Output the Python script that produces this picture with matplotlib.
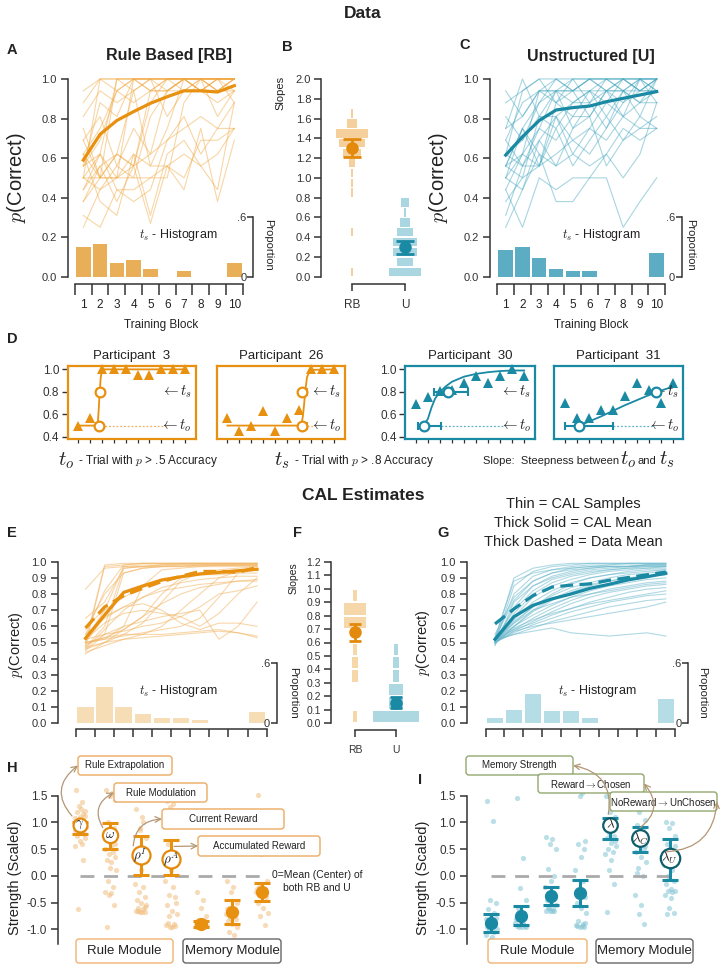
import numpy as np
import matplotlib
matplotlib.use('Agg')
import matplotlib.pyplot as plt
from matplotlib.patches import FancyBboxPatch

plt.rcParams['font.family'] = ['Liberation Sans', 'DejaVu Sans']
plt.rcParams['mathtext.fontset'] = 'cm'
plt.rcParams['axes.unicode_minus'] = False

W, H = 727, 969

# ----------------------------------------------------------------- data
blocks = list(range(1, 11))
trials = list(range(1, 11))

A_lines = [
    [0.94, 1.0, 1.0, 1.0, 1.0, 1.0, 1.0, 1.0, 1.0, 1.0],
    [0.88, 1.0, 0.94, 1.0, 1.0, 0.94, 1.0, 1.0, 1.0, 1.0],
    [0.50, 1.0, 1.0, 1.0, 1.0, 1.0, 1.0, 1.0, 1.0, 1.0],
    [0.62, 0.50, 1.0, 1.0, 0.94, 1.0, 1.0, 0.94, 1.0, 0.94],
    [0.56, 0.69, 0.94, 1.0, 1.0, 1.0, 0.94, 1.0, 0.94, 1.0],
    [0.44, 0.62, 1.0, 0.94, 1.0, 1.0, 1.0, 1.0, 1.0, 1.0],
    [0.75, 0.50, 0.50, 1.0, 1.0, 1.0, 1.0, 1.0, 0.94, 1.0],
    [0.38, 0.50, 0.62, 0.56, 0.88, 1.0, 1.0, 1.0, 1.0, 1.0],
    [0.50, 0.44, 0.50, 0.56, 0.62, 0.94, 1.0, 0.94, 1.0, 1.0],
    [0.25, 0.44, 0.56, 0.50, 0.81, 0.94, 1.0, 1.0, 0.94, 1.0],
    [0.69, 0.81, 0.56, 0.75, 0.62, 0.69, 0.81, 0.62, 0.75, 0.88],
    [0.62, 0.38, 0.31, 0.62, 0.31, 0.62, 0.69, 0.56, 0.44, 0.88],
    [0.56, 0.62, 0.44, 0.44, 0.50, 0.56, 0.50, 0.69, 0.69, 0.75],
    [0.31, 0.25, 0.44, 0.38, 0.44, 0.69, 0.75, 0.81, 0.75, 0.75],
    [0.50, 0.62, 0.50, 0.62, 0.56, 0.56, 0.44, 0.75, 0.38, 0.69],
    [0.81, 0.94, 0.88, 0.94, 1.0, 0.81, 0.94, 1.0, 1.0, 0.88],
    [0.38, 0.56, 0.62, 0.56, 0.94, 0.94, 0.94, 0.94, 0.94, 0.94],
    [0.50, 0.50, 0.50, 0.50, 0.50, 0.50, 0.88, 1.0, 1.0, 1.0],
    [0.44, 0.56, 0.38, 0.56, 0.27, 0.56, 0.62, 0.56, 0.62, 0.75],
    [0.62, 0.75, 0.94, 0.88, 0.94, 1.0, 1.0, 0.94, 0.88, 0.94],
    [0.69, 0.50, 0.62, 0.94, 0.56, 0.75, 1.0, 0.94, 1.0, 1.0],
    [0.56, 0.88, 0.81, 1.0, 0.94, 0.94, 1.0, 1.0, 0.81, 0.94],
]
A_mean = [0.59, 0.72, 0.79, 0.835, 0.877, 0.91, 0.94, 0.94, 0.934, 0.966]
A_hist = [0.30, 0.33, 0.14, 0.17, 0.08, 0.0, 0.06, 0.0, 0.0, 0.14]

C_lines = [
    [0.62, 0.94, 1.0, 0.88, 1.0, 1.0, 0.94, 1.0, 1.0, 1.0],
    [0.50, 0.75, 0.88, 1.0, 0.94, 1.0, 1.0, 1.0, 0.94, 1.0],
    [0.44, 0.62, 0.94, 0.94, 1.0, 0.88, 1.0, 0.94, 1.0, 1.0],
    [0.75, 1.0, 0.81, 0.94, 0.94, 1.0, 0.94, 1.0, 1.0, 0.94],
    [0.56, 0.50, 0.56, 0.81, 0.88, 0.94, 0.81, 0.94, 0.88, 1.0],
    [0.69, 0.56, 0.75, 0.94, 0.75, 0.88, 0.94, 0.81, 1.0, 0.88],
    [0.31, 0.56, 0.56, 0.62, 0.69, 0.62, 0.75, 0.88, 0.94, 1.0],
    [0.88, 0.94, 1.0, 1.0, 1.0, 1.0, 1.0, 1.0, 1.0, 1.0],
    [0.94, 0.81, 0.94, 1.0, 0.94, 1.0, 1.0, 1.0, 0.94, 1.0],
    [0.50, 0.44, 0.62, 0.38, 0.38, 0.50, 0.62, 0.50, 0.62, 0.88],
    [0.25, 0.44, 0.69, 0.56, 0.75, 0.81, 0.56, 0.69, 0.75, 0.75],
    [0.56, 0.62, 0.56, 0.75, 0.56, 0.69, 0.81, 0.69, 0.81, 0.75],
    [0.44, 0.25, 0.50, 0.44, 0.50, 0.50, 0.50, 0.25, 0.38, 0.50],
    [0.62, 0.69, 0.81, 0.81, 0.69, 0.75, 0.88, 0.81, 0.88, 0.94],
    [0.56, 0.75, 0.56, 0.88, 0.81, 0.81, 0.94, 0.94, 0.81, 1.0],
    [0.69, 0.88, 0.94, 0.88, 0.94, 0.81, 0.94, 0.88, 1.0, 0.94],
    [0.50, 0.62, 0.75, 0.69, 0.81, 0.94, 0.88, 1.0, 0.94, 0.94],
    [0.38, 0.50, 0.81, 0.75, 0.88, 0.88, 0.75, 0.94, 0.88, 0.88],
    [0.81, 0.69, 0.88, 0.94, 0.88, 0.94, 1.0, 0.94, 1.0, 1.0],
    [0.62, 0.56, 0.69, 0.81, 0.62, 0.75, 0.69, 0.81, 0.75, 0.81],
    [0.75, 0.81, 0.94, 0.94, 0.94, 0.94, 0.94, 0.94, 0.94, 0.94],
    [0.56, 0.75, 0.62, 0.56, 0.62, 0.56, 0.62, 0.75, 0.69, 0.75],
]
C_mean = [0.615, 0.708, 0.79, 0.843, 0.855, 0.863, 0.885, 0.902, 0.919, 0.936]
C_hist = [0.27, 0.30, 0.19, 0.08, 0.06, 0.06, 0.0, 0.0, 0.0, 0.24]

slope_bins_B = [0.05, 0.15, 0.25, 0.35, 0.45, 0.55, 0.65, 0.75, 0.85, 0.95,
                1.05, 1.15, 1.25, 1.35, 1.45, 1.55, 1.65, 1.75, 1.85, 1.95]
B_rb_counts = [1, 0, 0, 0, 1, 0, 0, 0, 1, 1, 1, 2, 7, 10, 12, 4, 1, 0, 0, 0]
B_u_counts = [12, 6, 9, 9, 6, 4, 1, 3, 0, 0, 0, 0, 0, 0, 0, 0, 0, 0, 0, 0]
B_rb_stats = [1.30, 1.21, 1.39]   # mean, low, high
B_u_stats = [0.30, 0.23, 0.36]
slope_categories = ['RB', 'U']

D_titles = ['Participant  3', 'Participant  26', 'Participant  30', 'Participant  31']
D_vals = [
    [0.50, 0.57, 1.0, 1.0, 1.0, 0.95, 0.95, 1.0, 1.0, 1.0],
    [0.57, 0.45, 0.50, 0.63, 0.45, 0.57, 0.64, 1.0, 1.0, 1.0],
    [0.69, 0.75, 0.81, 0.82, 0.88, 0.94, 0.88, 0.94, 1.0, 0.94],
    [0.70, 0.57, 0.57, 0.64, 0.64, 0.76, 0.88, 0.82, 0.70, 0.88],
]
D_fit_x = [
    [1, 2.55, 2.65, 2.72, 2.8, 2.88, 2.97, 3.1, 10],
    [1, 7.15, 7.25, 7.35, 7.45, 7.55, 7.7, 7.95, 10],
    [1.65, 2.0, 2.3, 2.6, 3.0, 3.5, 4, 5, 6, 7, 8, 9, 10],
    [2.2, 3, 4, 5, 6, 7, 8, 9, 10],
]
D_fit_y = [
    [0.5, 0.5, 0.53, 0.65, 0.8, 0.92, 0.98, 1.0, 1.0],
    [0.5, 0.5, 0.52, 0.58, 0.68, 0.8, 0.93, 0.995, 1.0],
    [0.5, 0.56, 0.66, 0.74, 0.8, 0.85, 0.89, 0.935, 0.96, 0.975, 0.985, 0.99, 0.99],
    [0.5, 0.535, 0.58, 0.63, 0.68, 0.725, 0.77, 0.81, 0.845],
]
D_to = [[2.72, 2.52, 2.92], [7.3, 7.25, 7.7], [1.65, 1.2, 3.05], [2.2, 1.05, 5.0]]
D_ts = [[2.8, 2.6, 3.0], [7.3, 7.25, 7.7], [3.65, 2.55, 5.3], [8.65, 8.65, 8.65]]

E_lines = [
    [0.50, 0.98, 0.99, 0.99, 0.99, 0.99, 0.99, 0.99, 0.99, 0.99],
    [0.48, 0.97, 0.98, 0.99, 0.99, 0.99, 0.99, 0.99, 0.99, 0.99],
    [0.55, 0.82, 0.98, 0.99, 0.99, 0.99, 0.99, 0.99, 0.99, 0.99],
    [0.52, 0.70, 0.97, 0.98, 0.98, 0.99, 0.99, 0.99, 0.99, 0.99],
    [0.47, 0.60, 0.96, 0.97, 0.98, 0.98, 0.98, 0.98, 0.98, 0.98],
    [0.83, 0.96, 0.97, 0.97, 0.98, 0.98, 0.98, 0.98, 0.98, 0.98],
    [0.45, 0.55, 0.93, 0.96, 0.97, 0.97, 0.97, 0.98, 0.98, 0.98],
    [0.50, 0.52, 0.60, 0.85, 0.95, 0.96, 0.97, 0.97, 0.97, 0.97],
    [0.46, 0.50, 0.55, 0.62, 0.75, 0.88, 0.93, 0.95, 0.96, 0.97],
    [0.49, 0.53, 0.58, 0.66, 0.80, 0.90, 0.93, 0.94, 0.95, 0.96],
    [0.44, 0.48, 0.52, 0.55, 0.60, 0.70, 0.80, 0.90, 0.94, 0.95],
    [0.52, 0.55, 0.57, 0.60, 0.62, 0.66, 0.72, 0.80, 0.82, 0.85],
    [0.50, 0.52, 0.54, 0.56, 0.58, 0.60, 0.65, 0.78, 0.93, 0.95],
    [0.47, 0.50, 0.52, 0.53, 0.54, 0.55, 0.56, 0.57, 0.56, 0.53],
    [0.50, 0.53, 0.55, 0.55, 0.55, 0.56, 0.57, 0.58, 0.56, 0.54],
    [0.48, 0.55, 0.60, 0.63, 0.66, 0.68, 0.70, 0.52, 0.60, 0.75],
    [0.60, 0.70, 0.78, 0.84, 0.88, 0.90, 0.92, 0.92, 0.93, 0.93],
    [0.55, 0.65, 0.72, 0.78, 0.82, 0.84, 0.86, 0.87, 0.88, 0.88],
    [0.46, 0.58, 0.70, 0.78, 0.84, 0.87, 0.89, 0.90, 0.91, 0.91],
    [0.43, 0.50, 0.58, 0.66, 0.74, 0.80, 0.84, 0.86, 0.88, 0.89],
    [0.52, 0.62, 0.68, 0.70, 0.68, 0.66, 0.60, 0.68, 0.80, 0.90],
    [0.58, 0.80, 0.93, 0.96, 0.97, 0.97, 0.98, 0.98, 0.98, 0.98],
    [0.65, 0.75, 0.96, 0.97, 0.97, 0.98, 0.98, 0.98, 0.98, 0.98],
    [0.50, 0.66, 0.72, 0.74, 0.70, 0.62, 0.58, 0.62, 0.62, 0.60],
]
E_mean = [0.526, 0.67, 0.81, 0.85, 0.887, 0.907, 0.924, 0.934, 0.944, 0.953]
E_hist = [0.16, 0.36, 0.16, 0.09, 0.05, 0.05, 0.03, 0.0, 0.0, 0.11]

slope_bins_F = [0.05, 0.15, 0.25, 0.35, 0.45, 0.55, 0.65, 0.75, 0.85, 0.95, 1.05, 1.15]
F_rb_counts = [1, 0, 0, 2, 2, 1, 0, 7, 7, 1, 0, 0]
F_u_counts = [14, 4, 4, 2, 2, 1, 0, 0, 0, 0, 0, 0]
F_rb_stats = [0.68, 0.61, 0.74]
F_u_stats = [0.15, 0.11, 0.19]

G_lines = [
    [0.52, 0.90, 0.96, 0.98, 0.99, 0.99, 0.99, 0.99, 0.99, 0.99],
    [0.50, 0.85, 0.94, 0.97, 0.98, 0.99, 0.99, 0.99, 0.99, 0.99],
    [0.51, 0.80, 0.91, 0.95, 0.97, 0.98, 0.98, 0.99, 0.99, 0.99],
    [0.53, 0.76, 0.88, 0.93, 0.96, 0.97, 0.98, 0.98, 0.98, 0.98],
    [0.50, 0.72, 0.85, 0.91, 0.94, 0.96, 0.97, 0.97, 0.98, 0.98],
    [0.52, 0.70, 0.82, 0.89, 0.92, 0.94, 0.95, 0.96, 0.97, 0.97],
    [0.49, 0.66, 0.78, 0.85, 0.89, 0.92, 0.94, 0.95, 0.96, 0.96],
    [0.51, 0.64, 0.75, 0.82, 0.87, 0.90, 0.92, 0.94, 0.95, 0.95],
    [0.50, 0.62, 0.72, 0.79, 0.84, 0.87, 0.90, 0.92, 0.93, 0.94],
    [0.52, 0.60, 0.69, 0.76, 0.81, 0.85, 0.88, 0.90, 0.91, 0.92],
    [0.50, 0.60, 0.67, 0.73, 0.78, 0.82, 0.85, 0.87, 0.89, 0.90],
    [0.51, 0.58, 0.65, 0.71, 0.76, 0.80, 0.83, 0.85, 0.87, 0.88],
    [0.50, 0.57, 0.63, 0.69, 0.74, 0.78, 0.81, 0.83, 0.85, 0.86],
    [0.52, 0.58, 0.62, 0.67, 0.71, 0.75, 0.78, 0.81, 0.83, 0.84],
    [0.50, 0.56, 0.61, 0.65, 0.69, 0.72, 0.75, 0.77, 0.79, 0.80],
    [0.51, 0.55, 0.59, 0.63, 0.66, 0.69, 0.72, 0.74, 0.76, 0.77],
    [0.50, 0.57, 0.60, 0.62, 0.64, 0.66, 0.68, 0.70, 0.72, 0.75],
    [0.52, 0.55, 0.57, 0.59, 0.56, 0.55, 0.54, 0.55, 0.56, 0.54],
    [0.48, 0.75, 0.85, 0.90, 0.93, 0.95, 0.96, 0.97, 0.97, 0.97],
    [0.53, 0.88, 0.93, 0.95, 0.96, 0.97, 0.97, 0.97, 0.98, 0.98],
    [0.50, 0.68, 0.80, 0.87, 0.91, 0.93, 0.95, 0.96, 0.96, 0.97],
    [0.51, 0.63, 0.72, 0.80, 0.86, 0.90, 0.92, 0.93, 0.94, 0.95],
    [0.49, 0.60, 0.70, 0.77, 0.82, 0.86, 0.88, 0.90, 0.91, 0.92],
    [0.52, 0.62, 0.70, 0.74, 0.78, 0.80, 0.82, 0.84, 0.86, 0.87],
    [0.55, 0.78, 0.88, 0.93, 0.95, 0.96, 0.97, 0.97, 0.98, 0.98],
    [0.50, 0.59, 0.64, 0.68, 0.71, 0.74, 0.76, 0.78, 0.80, 0.82],
]
G_mean = [0.52, 0.66, 0.73, 0.77, 0.80, 0.835, 0.86, 0.887, 0.907, 0.928]
G_hist = [0.05, 0.13, 0.29, 0.12, 0.12, 0.05, 0.0, 0.0, 0.0, 0.24]

H_points = [
    [1.6, 1.38, 1.3, 1.22, 1.2, 1.15, 1.1, 1.08, 1.05, 1.02, 1.0, 0.98, 0.95, 0.92, 0.9,
     0.88, 0.85, 0.82, 0.8, 0.78, 0.75, 0.7, 0.65, 0.6, 0.55, 0.3, -0.62, 1.25, 1.12, 0.95],
    [1.6, 1.55, 1.5, 1.42, 1.0, 0.9, 0.55, 0.5, 0.45, 0.4, 0.35, 0.3, 0.25, 0.1, -0.1,
     -0.2, -0.3, -0.32, -0.35, -0.55, -0.95, 0.6, 0.15],
    [1.25, 1.1, 0.9, 0.7, 0.5, 0.3, 0.1, -0.15, -0.2, -0.3, -0.4, -0.45, -0.5, -0.55,
     -0.6, -0.62, -0.65, -0.68, -0.68, -0.68, -0.65, -0.58, 0.85, 1.0],
    [1.4, 1.35, 1.28, 1.05, 0.6, 0.4, 0.1, -0.1, -0.2, -0.35, -0.4, -0.55, -0.65, -0.72,
     -0.75, -0.9, -0.92, -0.95, -0.95, -0.93, -0.88, -0.5, 0.2],
    [-0.3, -0.45, -0.6, -0.75, -0.82, -0.85, -0.88, -0.88, -0.9, -0.9, -0.92, -0.92,
     -0.93, -0.93, -0.94, -0.94, -0.95, -0.95, -0.96, -0.9, -0.87],
    [-0.1, -0.2, -0.3, -0.5, -0.6, -0.65, -0.7, -0.72, -0.75, -0.78, -0.8, -0.85, -0.9,
     -0.95, -1.05, -1.1, -0.62, -0.68, -0.7],
    [1.52, 0.45, 0.4, -0.1, -0.2, -0.25, -0.28, -0.3, -0.32, -0.35, -0.4, -0.5, -0.6,
     -0.7, -0.75, -0.92, -0.25, -0.3],
]
H_means = [0.96, 0.76, 0.39, 0.32, -0.90, -0.67, -0.30]
H_low = [0.79, 0.51, 0.01, 0.01, -0.95, -0.90, -0.48]
H_high = [1.0, 0.98, 0.75, 0.67, -0.85, -0.45, -0.13]
H_labels = [r'$\gamma$', r'$\omega$', r'$\rho^I$', r'$\rho^A$', '', '', '']

I_points = [
    [1.4, 1.02, -0.45, -0.5, -0.62, -0.7, -0.75, -0.8, -0.85, -0.9, -0.92, -0.95, -0.98,
     -1.0, -1.02, -1.05, -1.1, -1.15, -1.2, -1.25, -0.88, -0.78],
    [1.45, 0.33, -0.22, -0.45, -0.6, -0.7, -0.85, -0.88, -0.9, -0.92, -0.93, -0.94,
     -0.95, -0.95, -0.96, -0.9, -0.8, -0.75],
    [0.72, 0.68, 0.6, 0.5, 0.12, 0.0, -0.1, -0.2, -0.3, -0.35, -0.4, -0.45, -0.5, -0.55,
     -0.6, -0.62, -0.65, -0.65, -0.66, -0.66, -0.6],
    [1.6, 1.55, 1.5, 0.65, 0.6, 0.5, 0.35, 0.1, -0.1, -0.3, -0.4, -0.5, -0.6, -0.7,
     -0.85, -0.9, -0.92, -0.94, -0.95, -0.95, -0.93, -0.88],
    [1.5, 1.3, 1.2, 1.1, 1.05, 1.0, 0.95, 0.9, 0.85, 0.8, 0.75, 0.7, 0.62, 0.55, 0.5,
     0.45, 0.4, 0.3, 0.1, -0.15, -0.68, 0.65, 0.88],
    [1.55, 1.3, 1.2, 1.05, 0.95, 0.9, 0.85, 0.75, 0.7, 0.6, 0.5, 0.45, 0.35, 0.25, 0.15,
     0.0, -0.35, -0.55, -0.72, -0.9, 0.05, 0.55],
    [1.0, 0.98, 0.9, 0.75, 0.6, 0.45, 0.3, 0.2, 0.1, 0.0, -0.1, -0.15, -0.25, -0.28,
     -0.28, -0.3, -0.35, -0.42, -0.6, -0.7, -0.72, 0.55],
]
I_means = [-0.89, -0.75, -0.37, -0.33, 0.95, 0.70, 0.33]
I_low = [-1.06, -0.92, -0.545, -0.56, 0.68, 0.45, -0.07]
I_high = [-0.71, -0.56, -0.20, -0.08, 1.08, 0.91, 0.68]
I_labels = ['', '', '', '', r'$\lambda$', r'$\lambda_C$', r'$\lambda_U$']

# jitter pattern for dot strips (layout only)
JIT = [-0.14, 0.06, -0.02, 0.17, -0.09, 0.11, 0.01, -0.18, 0.08, -0.05,
       0.14, -0.12, 0.03, 0.19, -0.07, 0.09, -0.16, 0.04, -0.03, 0.13,
       -0.10, 0.16, -0.01, 0.07, -0.15, 0.10, -0.06, 0.02, 0.18, -0.11]

# ----------------------------------------------------------------- styles
ORANGE = '#E8900F'
ORANGE_THIN = '#F0A53A'
TEAL = '#1A89A3'
TEAL_THIN = '#3EA3BD'
AX_COL = '#333333'
TXT = '#222222'

fig = plt.figure(figsize=(W / 100, H / 100), dpi=100)


def add_ax(x0, y0, x1, y1, **kw):
    return fig.add_axes([x0 / W, 1 - y1 / H, (x1 - x0) / W, (y1 - y0) / H], **kw)


def pt(p):
    return p * 0.72


def clean(ax):
    for s in ['top', 'right']:
        ax.spines[s].set_visible(False)
    for s in ['left', 'bottom']:
        ax.spines[s].set_color(AX_COL)
        ax.spines[s].set_linewidth(1.1)
    ax.patch.set_alpha(0)


def curve_panel(box, lines, mean, hist, fac, thin_c, mean_c, hist_c, ystep,
                left_out, bottom_out, tick_len, labels, prop_x, dashed=None,
                thin_alpha=0.45, tick_fs=8):
    ax = add_ax(*box)
    clean(ax)
    ylim = (-0.02, 1.02)
    ax.set_xlim(0.5, 10.5)
    ax.set_ylim(*ylim)
    for row in lines:
        ax.plot(blocks, row, color=thin_c, lw=0.8, alpha=thin_alpha, zorder=2, clip_on=False)
    ax.plot(blocks, mean, color=mean_c, lw=2.3, zorder=5, clip_on=False)
    if dashed is not None:
        ax.plot(blocks, dashed, color=mean_c, lw=2.3, ls=(0, (4, 2)), zorder=5, clip_on=False)
    ax.spines['left'].set_position(('outward', pt(left_out)))
    ax.spines['left'].set_bounds(0, 1)
    yt = np.round(np.arange(0, 1.0001, ystep), 2)
    ax.set_yticks(yt, [f'{v:.1f}' for v in yt])
    ax.tick_params(axis='y', length=5, width=1.1, pad=3, labelsize=tick_fs, colors=AX_COL)
    ax.spines['bottom'].set_position(('outward', pt(bottom_out)))
    ax.spines['bottom'].set_bounds(0.5, 10.5)
    ax.set_xticks(np.arange(0.5, 10.51, 1.0), [''] * 11)
    ax.tick_params(axis='x', which='major', length=tick_len, width=1.1, colors=AX_COL)
    if labels:
        ax.set_xticks(blocks, [str(b) for b in blocks], minor=True)
        ax.tick_params(axis='x', which='minor', length=0, pad=11, labelsize=8.5, colors=TXT)
    # histogram on proportion scale
    ax2 = ax.twinx()
    ax2.set_ylim(ylim[0] * fac, ylim[1] * fac)
    ax2.bar(blocks, hist, width=0.86, color=hist_c, zorder=1)
    ax2.axis('off')
    # proportion bracket
    bx = add_ax(prop_x, box[1], prop_x + 2, box[3])
    bx.set_ylim(ylim[0] * fac, ylim[1] * fac)
    for s in ['top', 'right', 'bottom']:
        bx.spines[s].set_visible(False)
    bx.spines['left'].set_bounds(0, 0.6)
    bx.spines['left'].set_color(AX_COL)
    bx.spines['left'].set_linewidth(1.1)
    bx.set_xticks([])
    bx.set_yticks([0, 0.6], ['0', '.6'])
    bx.tick_params(axis='y', length=4, width=1.1, pad=1, labelsize=8, colors=AX_COL)
    bx.patch.set_alpha(0)
    return ax


def slope_panel(box, xlim, ylim, bins, rb_c, u_c, unit, rb_s, u_s, yticks,
                left_out, bottom_out, rb_col, u_col, cap, bar_h, tick_fs, xl_fs):
    ax = add_ax(*box)
    clean(ax)
    ax.set_xlim(*xlim)
    ax.set_ylim(*ylim)
    for xc, counts, col in [(0, rb_c, rb_col), (1, u_c, u_col)]:
        widths = [c * unit for c in counts]
        ax.barh(bins, widths, left=[xc - w / 2 for w in widths], height=bar_h,
                color=col, zorder=1)
    for xc, st, col in [(0, rb_s, '#E38A0C'), (1, u_s, TEAL)]:
        ax.errorbar(xc, st[0], yerr=[[st[0] - st[1]], [st[2] - st[0]]], fmt='o', ms=8,
                    color=col, ecolor=col, elinewidth=2, capsize=cap, capthick=2, zorder=3)
    ax.spines['left'].set_position(('outward', pt(left_out)))
    ax.spines['left'].set_bounds(yticks[0], yticks[-1])
    ax.set_yticks(yticks, [f'{v:.1f}' for v in yticks])
    ax.tick_params(axis='y', length=5, width=1.1, pad=2, labelsize=tick_fs, colors=AX_COL)
    ax.spines['bottom'].set_position(('outward', pt(bottom_out)))
    ax.spines['bottom'].set_bounds(0, 1)
    ax.set_xticks([0, 1], slope_categories)
    ax.tick_params(axis='x', length=5, width=1.1, pad=6, labelsize=xl_fs, colors=AX_COL)
    return ax


# ----------------------------------------------------------------- row 1
axA = curve_panel((74.9, 75, 242.7, 280.7), A_lines, A_mean, A_hist, 1.987,
                  ORANGE_THIN, ORANGE, '#E9AE58', 0.2, 7, 3.3, 7.7, True, 253.3)
axC = curve_panel((497.3, 75, 665.1, 280.7), C_lines, C_mean, C_hist, 1.987,
                  TEAL_THIN, TEAL, '#5CADC3', 0.2, 7.3, 3.3, 7.7, True, 681.7)
axB = slope_panel((330, 75, 430, 280.7), (-0.415, 1.472), (-0.04, 2.04), slope_bins_B,
                  B_rb_counts, B_u_counts, 0.05, B_rb_stats, B_u_stats,
                  list(np.round(np.arange(0, 2.001, 0.2), 1)), 9, 3.3,
                  '#F5D09C', '#A9D6E1', 6.5, 0.085, 8, 8.5)

# ----------------------------------------------------------------- row D
D_boxes = [(67.7, 366, 195.7, 439.3), (216.7, 366, 345, 439.3),
           (405, 366, 535, 439.3), (554, 366, 683.3, 439.3)]
D_cols = [ORANGE, ORANGE, TEAL, TEAL]
D_light = ['#F0B060', '#F0B060', '#5FB3C8', '#5FB3C8']
for k in range(4):
    ax = add_ax(*D_boxes[k])
    col = D_cols[k]
    ax.set_xlim(0.1, 10.9)
    ax.set_ylim(0.378, 1.03)
    for s in ax.spines.values():
        s.set_color(col)
        s.set_linewidth(1.6)
    ax.plot(D_fit_x[k], D_fit_y[k], color=col, lw=1.3, zorder=2)
    ax.plot(trials, D_vals[k], '^', color=col, ms=6.5, mew=0, zorder=3, clip_on=False)
    to, ts = D_to[k], D_ts[k]
    ax.hlines(0.5, to[2], 8.4, color=D_light[k], lw=0.9, linestyles=(0, (1.5, 1.5)), zorder=1)
    for (xm, lo, hi), yv in [(to, 0.5), (ts, 0.8)]:
        if hi > lo:
            ax.errorbar(xm, yv, xerr=[[xm - lo], [hi - xm]], fmt='none', ecolor=col,
                        elinewidth=1.5, capsize=3.2, capthick=1.5, zorder=4)
        ax.plot(xm, yv, 'o', ms=7, mfc='white', mec=col, mew=1.6, zorder=5)
    ax.text(10.6, 0.8, r'$\leftarrow t_s$', ha='right', va='center', fontsize=10.5, color=TXT)
    ax.text(10.6, 0.5, r'$\leftarrow t_o$', ha='right', va='center', fontsize=10.5, color=TXT)
    ax.set_xticks(trials)
    ax.set_xticklabels([])
    ax.tick_params(axis='x', length=3, width=0.9, colors=AX_COL)
    if k in (0, 2):
        ax.set_yticks([0.4, 0.6, 0.8, 1.0], ['0.4', '0.6', '0.8', '1.0'])
        ax.tick_params(axis='y', length=4, width=1.0, pad=2, labelsize=8.5, colors=AX_COL)
    else:
        ax.set_yticks([])
    ax.set_title(D_titles[k], fontsize=9.5, pad=5, color=TXT)

# ----------------------------------------------------------------- row 2
axE = curve_panel((76, 558.5, 266.6, 726.5), E_lines, E_mean, E_hist, 1.62,
                  '#F2B564', ORANGE, '#F6DDB6', 0.1, 18, 2.8, 5.7, False, 276.7,
                  dashed=A_mean, thin_alpha=0.55, tick_fs=8)
axG = curve_panel((485.5, 558.5, 675.3, 726.5), G_lines, G_mean, G_hist, 1.62,
                  '#6DB9CD', TEAL, '#B5DDE5', 0.1, 18.5, 2.8, 5.7, False, 688.3,
                  dashed=C_mean, thin_alpha=0.55, tick_fs=8)
axF = slope_panel((338, 558, 430, 727), (-0.415, 1.829), (-0.03, 1.23), slope_bins_F,
                  F_rb_counts, F_u_counts, 0.08, F_rb_stats, F_u_stats,
                  list(np.round(np.arange(0, 1.201, 0.1), 1)), 7.3, 3,
                  '#F6D7AA', '#ADD8E2', 4.3, 0.085, 7.5, 7.5)


# ----------------------------------------------------------------- row 3
def strength_panel(box, pts, means, lows, highs, labels, dot_c, mean_c, ring_c, left_out,
                   ring_sizes):
    ax = add_ax(*box)
    clean(ax)
    ax.spines['bottom'].set_visible(False)
    ax.set_xlim(0.5, 7.5)
    ax.set_ylim(-1.3, 1.75)
    cols = list(range(1, len(pts) + 1))
    for c, vals in zip(cols, pts):
        xs = [c + JIT[j % len(JIT)] for j in range(len(vals))]
        ax.scatter(xs, vals, s=14, color=dot_c, alpha=0.55, lw=0, zorder=1, clip_on=False)
    ax.hlines(0, cols[0], cols[-1], color='#AAAAAA', lw=2, linestyles=(0, (5, 3.5)), zorder=2)
    for c, m, lo, hi, lab, rs in zip(cols, means, lows, highs, labels, ring_sizes):
        ax.errorbar(c, m, yerr=[[m - lo], [hi - m]], fmt='none', ecolor=mean_c,
                    elinewidth=2.2, capsize=5.5, capthick=2.2, zorder=3)
        if lab:
            ax.plot(c, m, 'o', ms=rs, mfc='white', mec=ring_c, mew=1.6, zorder=4, clip_on=False)
            ax.text(c, m, lab, ha='center', va='center', fontsize=9.5, color=TXT, zorder=5)
        else:
            ax.plot(c, m, 'o', ms=8.5, color=mean_c, zorder=4)
    ax.spines['left'].set_position(('outward', pt(left_out)))
    ax.spines['left'].set_bounds(-1.27, 1.5)
    yt = [-1.0, -0.5, 0.0, 0.5, 1.0, 1.5]
    ax.set_yticks(yt, [f'{v:.1f}' for v in yt])
    ax.set_xticks([])
    ax.tick_params(axis='y', length=5, width=1.1, pad=3, labelsize=8.5, colors=AX_COL)
    return ax


axH = strength_panel((64.8, 782.3, 277, 945.3), H_points, H_means, H_low, H_high, H_labels,
                     '#F2BE7E', ORANGE, '#E38A0C', 6.5, [10, 11, 13, 13, 0, 0, 0])
axI = strength_panel((476.1, 782.3, 684.7, 945.3), I_points, I_means, I_low, I_high, I_labels,
                     '#84C5D4', TEAL, '#0F5E6C', 9, [0, 0, 0, 0, 10.5, 12, 14])

# ----------------------------------------------------------------- overlay (pixel coords)
ov = fig.add_axes([0, 0, 1, 1])
ov.set_xlim(0, W)
ov.set_ylim(H, 0)
ov.axis('off')


def t(x, y, s, **kw):
    kw.setdefault('color', TXT)
    kw.setdefault('ha', 'center')
    kw.setdefault('va', 'center')
    ov.text(x, y, s, **kw)


t(363, 13, 'Data', fontsize=12.5, fontweight='bold')
t(363, 495, 'CAL Estimates', fontsize=12.5, fontweight='bold')
for lab, x, y in [('A', 12, 50), ('B', 287, 47), ('C', 465, 45), ('D', 12, 339),
                  ('E', 12, 533), ('F', 298, 533), ('G', 443, 533), ('H', 12, 768),
                  ('I', 420, 780)]:
    t(x, y, lab, fontsize=10.5, fontweight='bold')
t(169, 55, 'Rule Based [RB]', fontsize=11.5, fontweight='bold')
t(591, 56, 'Unstructured [U]', fontsize=11.5, fontweight='bold')
for x, y, fs in [(17, 178, 14.5), (438, 178, 14.5), (16, 645, 10.5), (423, 643, 10.5)]:
    t(x, y, r'$p$(Correct)', fontsize=fs, rotation=90)
for x, y in [(268, 245), (690, 245), (293, 693), (701.7, 693)]:
    t(x, y, 'Proportion', fontsize=8, rotation=270)
t(280, 93, 'Slopes', fontsize=8, rotation=90)
t(294, 578, 'Slopes', fontsize=7.5, rotation=90)
t(161, 325, 'Training Block', fontsize=8.5)
t(591, 325, 'Training Block', fontsize=8.5)
for x, y in [(178, 235), (601, 235), (178, 691), (597, 691)]:
    t(x, y, r'$t_s$ - Histogram', fontsize=9)
t(573, 504, 'Thin = CAL Samples', fontsize=10.5)
t(573, 523, 'Thick Solid = CAL Mean', fontsize=10.5)
t(573, 542, 'Thick Dashed = Data Mean', fontsize=10.5)
t(15, 878, 'Strength (Scaled)', fontsize=10.5, rotation=90)
t(423, 878, 'Strength (Scaled)', fontsize=10.5, rotation=90)
t(317, 875, '0=Mean (Center) of', fontsize=7.5)
t(317, 888, 'both RB and U', fontsize=7.5)

# D footnotes
t(66, 461, r'$t_o$', fontsize=15)
t(78, 461, '- Trial with $p$ > .5 Accuracy', fontsize=8.5, ha='left')
t(282, 461, r'$t_s$', fontsize=15)
t(294, 461, '- Trial with $p$ > .8 Accuracy', fontsize=8.5, ha='left')
t(483, 461, 'Slope:  Steepness between', fontsize=8, ha='left')
t(628, 460, r'$t_o$', fontsize=15)
t(647, 461, 'and', fontsize=8)
t(667, 460, r'$t_s$', fontsize=15)


def box(x0, y0, x1, y1, text, ec, fs):
    p = FancyBboxPatch((x0, y0), x1 - x0, y1 - y0, boxstyle='round,pad=0,rounding_size=3',
                       fc='white', ec=ec, lw=1.0, zorder=2)
    ov.add_patch(p)
    t((x0 + x1) / 2, (y0 + y1) / 2, text, fontsize=fs, zorder=3)


OB = '#EBAA62'
GB = '#93A86E'
box(78, 756, 172, 775, 'Rule Extrapolation', OB, 7)
box(114, 783, 207, 802, 'Rule Modulation', OB, 7)
box(162, 809, 284, 829, 'Current Reward', OB, 7)
box(198, 836, 320, 856, 'Accumulated Reward', OB, 7)
box(76, 939, 173, 963, 'Rule Module', '#F0B373', 9.5)
box(183, 939, 281, 963, 'Memory Module', '#666666', 9.5)
box(466, 756, 573, 775, 'Memory Strength', GB, 7)
box(538, 774, 644, 793, r'Reward$\rightarrow$Chosen', GB, 7)
box(610, 792, 717, 811, r'NoReward$\rightarrow$UnChosen', GB, 7)
box(488, 939, 587, 963, 'Rule Module', '#F0B373', 9.5)
box(596, 939, 693, 963, 'Memory Module', '#666666', 9.5)

ARW = '#B39774'


def arrow(end, ax, start, rad, shrinkA=7):
    ov.annotate('', xy=end, xycoords='data', xytext=start, textcoords=ax.transData,
                arrowprops=dict(arrowstyle='->', color=ARW, lw=0.9, shrinkA=shrinkA, shrinkB=0,
                                connectionstyle=f'arc3,rad={rad}'), zorder=4)


arrow((78, 765.5), axH, (0.8, H_means[0] + 0.12), -0.55, 2)
arrow((114, 792.5), axH, (1.8, H_means[1] + 0.1), -0.55, 2)
arrow((162, 819), axH, (2.75, H_means[2] + 0.12), -0.45, 2)
arrow((198, 846), axH, (4.1, 0.55), 0.0, 0)
arrow((573, 765.5), axI, (4.92, I_means[4] + 0.15), 0.5, 2)
arrow((644, 783.5), axI, (5.92, I_means[5] + 0.17), 0.55, 2)
arrow((717, 801.5), axI, (6.8, I_means[6] + 0.12), 0.45, 2)

fig.savefig('out.png', dpi=100)
